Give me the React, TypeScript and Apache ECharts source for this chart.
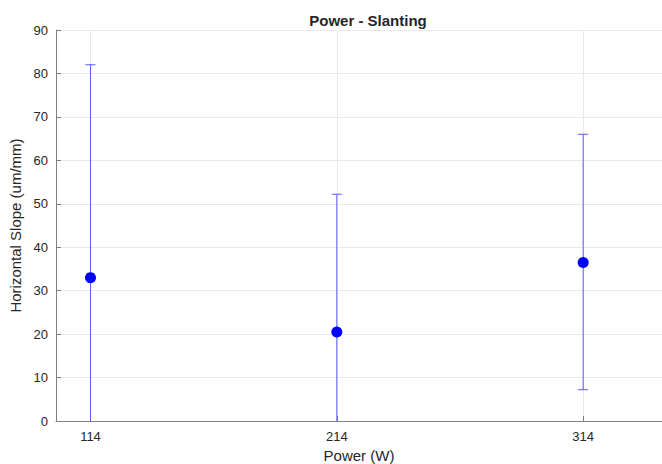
import React, { useEffect, useRef } from "react";
import * as echarts from "echarts";

const powers = [114, 214, 314];
const means = [33, 20.5, 36.5];
const lowers = [-16, -11.2, 7.2];
const uppers = [82, 52.2, 66];
const xTicks = [114, 214, 314];

export default function App() {
  const ref = useRef<HTMLDivElement>(null);
  useEffect(() => {
    const chart = echarts.init(ref.current!, null, { renderer: "svg" });
    const font = "'Liberation Sans', Arial, sans-serif";
    const errData = powers.map((p, i) => [p, lowers[i], uppers[i]]);
    chart.setOption({
      animation: false,
      textStyle: { fontFamily: font },
      title: {
        text: "Power - Slanting",
        left: 363,
        textAlign: "center",
        top: 8,
        textStyle: { fontSize: 15, fontWeight: "bold", color: "#262626", fontFamily: font },
      },
      grid: { left: 56, right: 0, top: 30, bottom: 43, outerBoundsMode: "none", containLabel: false },
      xAxis: {
        type: "value",
        min: 100,
        max: 346,
        name: "Power (W)",
        nameLocation: "middle",
        nameGap: 24,
        nameTextStyle: { fontSize: 15, color: "#262626" },
        axisLine: { show: true, lineStyle: { color: "#808080" } },
        axisTick: { show: true, inside: true, length: 5, customValues: xTicks, lineStyle: { color: "#808080" } },
        axisLabel: { customValues: xTicks, fontSize: 13, color: "#262626", margin: 9 },
        splitLine: { show: true, lineStyle: { color: "#e8e8e8" } },
      },
      yAxis: {
        type: "value",
        min: 0,
        max: 90,
        interval: 10,
        name: "Horizontal Slope (um/mm)",
        nameLocation: "middle",
        nameGap: 31,
        nameTextStyle: { fontSize: 15, color: "#262626" },
        axisLine: { show: true, lineStyle: { color: "#808080" } },
        axisTick: { show: true, inside: true, length: 5, lineStyle: { color: "#808080" } },
        axisLabel: { fontSize: 13, color: "#262626", margin: 8 },
        splitLine: { show: true, lineStyle: { color: "#e8e8e8" } },
      },
      series: [
        {
          type: "custom",
          clip: true,
          data: errData,
          encode: { x: 0, y: [1, 2] },
          renderItem: (params: any, api: any) => {
            const x = api.value(0);
            const lo = api.coord([x, api.value(1)]);
            const hi = api.coord([x, api.value(2)]);
            const w = 5;
            const style = { stroke: "#5a5aff", lineWidth: 1 };
            return {
              type: "group",
              children: [
                { type: "line", shape: { x1: lo[0], y1: lo[1], x2: hi[0], y2: hi[1] }, style },
                { type: "line", shape: { x1: hi[0] - w, y1: hi[1], x2: hi[0] + w, y2: hi[1] }, style },
                { type: "line", shape: { x1: lo[0] - w, y1: lo[1], x2: lo[0] + w, y2: lo[1] }, style },
              ],
            };
          },
          z: 2,
        },
        {
          type: "scatter",
          data: powers.map((p, i) => [p, means[i]]),
          symbol: "circle",
          symbolSize: 11,
          itemStyle: { color: "#0000ff", opacity: 1 },
          z: 3,
        },
      ],
    });
    return () => chart.dispose();
  }, []);
  return <div ref={ref} style={{ width: 662, height: 464, position: "absolute", left: 0, top: 0 }} />;
}
